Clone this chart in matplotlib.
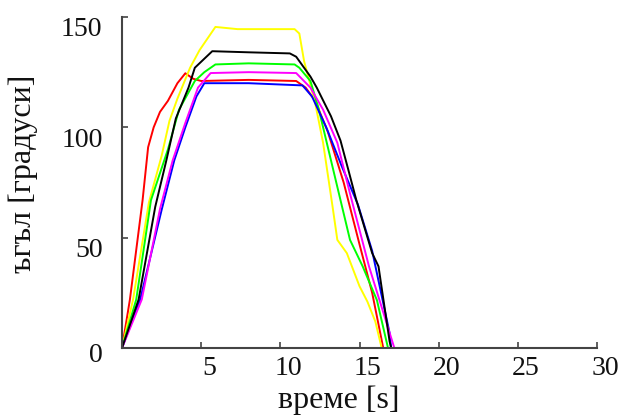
import matplotlib
matplotlib.use("Agg")
import matplotlib.pyplot as plt
from matplotlib.transforms import ScaledTranslation

plt.rcParams['font.family'] = ['Liberation Serif', 'DejaVu Serif']

# Joint angle over time for six trials
red_t = [0, 0.5, 1.3, 1.65, 2.0, 2.4, 2.9, 3.5, 4.0, 4.5, 5.0, 8.0, 11.0, 11.6, 12.2, 13.0, 14.0, 15.0, 15.8, 16.5]
red_a = [0, 22, 67, 91, 100, 107, 112, 120, 124.5, 122, 121, 121.5, 121, 118, 112, 98, 75, 47, 25, 0]

yellow_t = [0, 0.7, 1.7, 2.5, 3.0, 3.5, 4.3, 4.9, 5.9, 7.3, 10.9, 11.2, 11.5, 12.2, 12.7, 13.3, 13.6, 14.2, 15.0, 15.5, 16.0, 16.4]
yellow_a = [0, 22, 66, 87, 103, 113, 127, 135, 145.5, 144.5, 144.5, 142.5, 130, 111, 93, 64, 49, 43, 28, 21, 12, 0]

green_t = [0, 0.9, 1.83, 2.9, 3.6, 4.6, 5.2, 5.9, 8.0, 10.9, 11.2, 11.9, 12.4, 13.1, 13.9, 14.4, 15.2, 16.1, 16.8]
green_a = [0, 22, 67, 90, 108, 121, 125, 128.5, 129, 128.5, 127, 121, 109, 88, 64, 49, 37, 21.7, 0]

blue_t = [0, 1.15, 2.5, 3.3, 4.0, 4.7, 5.2, 8.0, 11.4, 12.0, 12.9, 13.9, 14.9, 15.8, 16.9, 17.0]
blue_a = [0, 22, 62.5, 85, 100, 114, 120, 120, 119, 114, 100, 82, 65, 44, 6.8, 0]

magenta_t = [0, 1.25, 2.4, 3.2, 4.0, 4.8, 5.6, 8.0, 11.0, 11.9, 12.7, 13.6, 14.4, 15.6, 17.2]
magenta_a = [0, 22, 63, 85, 102, 118, 124.6, 125, 124.6, 118, 108, 93, 70, 37, 0]

black_t = [0, 1.05, 2.1, 2.8, 3.4, 4.2, 4.6, 5.7, 8.0, 10.6, 11.0, 11.9, 12.3, 13.2, 13.8, 14.3, 14.8, 15.8, 16.2, 16.9, 17.0]
black_a = [0, 22, 64, 85, 104, 118, 127, 134.5, 134, 133.5, 132, 123, 118, 105, 94, 80.6, 67, 43, 37, 3, 0]

x_ticks = [5, 10, 15, 20, 25, 30]
y_ticks = [0, 50, 100, 150]
x_label = 'време [s]'
y_label = 'ъгъл [градуси]'

fig = plt.figure(figsize=(6.27, 4.17), dpi=100)
ax = fig.add_axes([122/627, 1-348/417, 475/627, 331/417])

series = [
    (red_t, red_a, '#ff0000'),
    (yellow_t, yellow_a, '#ffff00'),
    (green_t, green_a, '#00ff00'),
    (blue_t, blue_a, '#0000ff'),
    (magenta_t, magenta_a, '#ff00ff'),
    (black_t, black_a, '#000000'),
]
for t, a, c in series:
    ax.plot(t, a, color=c, lw=1.4, solid_joinstyle='round')

ax.set_xlim(0, 30)
ax.set_ylim(0, 150)
ax.set_xticks(x_ticks)
ax.set_yticks(y_ticks)

for side in ('top', 'right'):
    ax.spines[side].set_visible(False)
for side in ('left', 'bottom'):
    ax.spines[side].set_color('#444444')
    ax.spines[side].set_linewidth(1.5)

ax.tick_params(direction='in', length=4, width=1.2, color='#444444',
               labelsize=20, labelcolor='#111111')
ax.tick_params(axis='x', pad=6)
ax.tick_params(axis='y', pad=14)

for lbl in ax.get_xticklabels():
    lbl.set_transform(lbl.get_transform() + ScaledTranslation(8/100, 0, fig.dpi_scale_trans))
for lbl, v in zip(ax.get_yticklabels(), y_ticks):
    dy = -4 if v == 0 else -10
    lbl.set_transform(lbl.get_transform() + ScaledTranslation(0, dy/100, fig.dpi_scale_trans))

ax.set_xlabel(x_label, fontsize=23, color='#111111')
ax.set_ylabel(y_label, fontsize=23, color='#111111')
ax.xaxis.set_label_coords(0.456, -0.112)
ax.yaxis.set_label_coords(-0.176, 0.527)

fig.savefig('out.png', dpi=100)
